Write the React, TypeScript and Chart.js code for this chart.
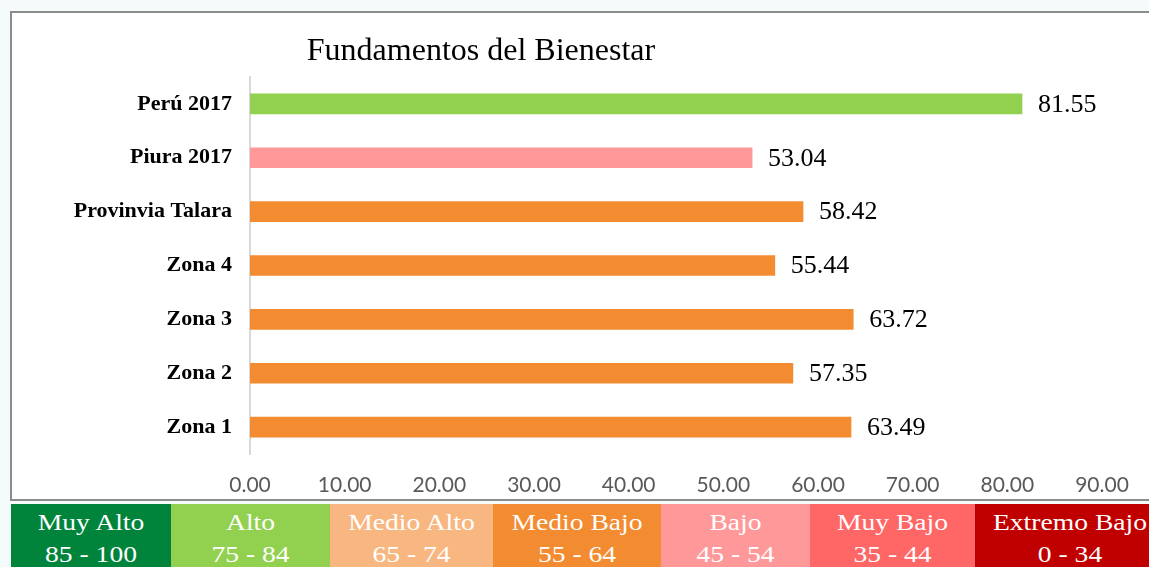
import React, { useEffect, useRef } from "react";
import { Chart, registerables } from "chart.js";

Chart.register(...registerables);

const categories = ["Perú 2017", "Piura 2017", "Provinvia Talara", "Zona 4", "Zona 3", "Zona 2", "Zona 1"];
const values = [81.55, 53.04, 58.42, 55.44, 63.72, 57.35, 63.49];
const barColors = ["#92D050", "#FF9999", "#F38B30", "#F38B30", "#F38B30", "#F38B30", "#F38B30"];
const xTicks = [0, 10, 20, 30, 40, 50, 60, 70, 80, 90];
const chartTitle = "Fundamentos del Bienestar";

const legendNames = ["Muy Alto", "Alto", "Medio Alto", "Medio Bajo", "Bajo", "Muy Bajo", "Extremo Bajo"];
const legendRanges = ["85 - 100", "75 - 84", "65 - 74", "55 - 64", "45 - 54", "35 - 44", "0 - 34"];
const legendColors = ["#00843C", "#92D050", "#F8B781", "#F38B30", "#FF9999", "#FF6666", "#C00000"];
const legendWidths = [160, 159, 163, 168, 149, 165, 190];

const SERIF = '"Liberation Serif", "Times New Roman", serif';
const SANS = 'Lato, "Liberation Sans", Arial, sans-serif';

const titlePlugin = {
  id: "customTitle",
  afterDraw(chart: any) {
    const ctx = chart.ctx;
    ctx.save();
    ctx.font = `32px ${SERIF}`;
    ctx.fillStyle = "#000";
    ctx.textAlign = "center";
    ctx.textBaseline = "alphabetic";
    ctx.fillText(chartTitle, 469, 47);
    ctx.restore();
  },
};

const valueLabelPlugin = {
  id: "valueLabels",
  afterDatasetsDraw(chart: any) {
    const ctx = chart.ctx;
    const meta = chart.getDatasetMeta(0);
    ctx.save();
    ctx.font = `26px ${SERIF}`;
    ctx.fillStyle = "#000";
    ctx.textAlign = "left";
    ctx.textBaseline = "middle";
    meta.data.forEach((bar: any, i: number) => {
      ctx.fillText(values[i].toFixed(2), bar.x + 16, bar.y + 1);
    });
    ctx.restore();
  },
};

function BarChart() {
  const ref = useRef<HTMLCanvasElement>(null);
  useEffect(() => {
    if (!ref.current) return;
    const chart = new Chart(ref.current, {
      type: "bar",
      data: {
        labels: categories,
        datasets: [
          {
            data: values,
            backgroundColor: barColors,
            borderWidth: 0,
            barThickness: 20,
          },
        ],
      },
      options: {
        indexAxis: "y",
        responsive: false,
        animation: false,
        layout: { padding: { top: 64, right: 47, left: 0, bottom: 0 } },
        plugins: {
          legend: { display: false },
          title: { display: false },
          tooltip: { enabled: false },
        },
        scales: {
          x: {
            min: 0,
            max: 90,
            afterFit: (s: any) => {
              s.height = 45;
            },
            afterBuildTicks: (s: any) => {
              s.ticks = xTicks.map((v) => ({ value: v }));
            },
            grid: { display: false, drawTicks: false },
            border: { display: false },
            ticks: {
              autoSkip: false,
              maxRotation: 0,
              padding: 19,
              color: "#595959",
              font: { family: SANS, size: 21 },
              callback: (v: any) => Number(v).toFixed(2),
            },
          },
          y: {
            afterFit: (s: any) => {
              s.width = 238;
            },
            grid: { display: false, drawTicks: false },
            border: { display: true, color: "#D9D9D9", width: 2 },
            ticks: {
              padding: 18,
              color: "#000",
              font: { family: SERIF, size: 22, weight: "bold" },
            },
          },
        },
      },
      plugins: [titlePlugin, valueLabelPlugin],
    } as any);
    return () => chart.destroy();
  }, []);
  return <canvas ref={ref} width={1137} height={486} style={{ width: 1137, height: 486, display: "block" }} />;
}

export default function App() {
  return (
    <div
      style={{
        position: "fixed",
        left: 0,
        top: 0,
        width: 1149,
        height: 567,
        overflow: "hidden",
        background: "#F5FAFB",
      }}
    >
      <div
        style={{
          position: "absolute",
          left: 10,
          top: 11,
          width: 1200,
          height: 490,
          border: "2px solid #8C8C8C",
          boxSizing: "border-box",
          background: "#fff",
        }}
      />
      <div style={{ position: "absolute", left: 12, top: 13 }}>
        <BarChart />
      </div>
      <div style={{ position: "absolute", left: 11, top: 504, display: "flex", height: 70 }}>
        {legendNames.map((name, i) => (
          <div
            key={name}
            style={{
              width: legendWidths[i],
              height: 70,
              background: legendColors[i],
              color: "#fff",
              fontFamily: SERIF,
              fontSize: 23,
              lineHeight: "32px",
              paddingTop: 3,
              boxSizing: "border-box",
              textAlign: "center",
              whiteSpace: "nowrap",
            }}
          >
            <div style={{ transform: "scaleX(1.2)" }}>{name}</div>
            <div style={{ transform: "scaleX(1.2)" }}>{legendRanges[i]}</div>
          </div>
        ))}
      </div>
    </div>
  );
}
